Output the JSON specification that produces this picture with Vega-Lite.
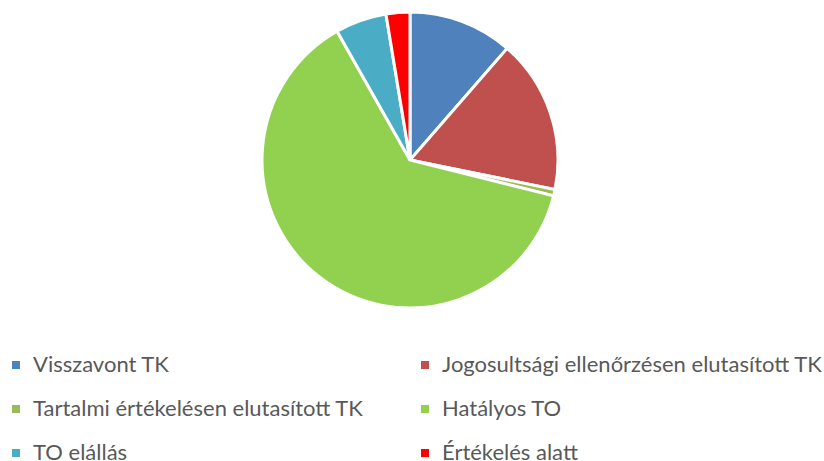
{
  "$schema": "https://vega.github.io/schema/vega-lite/v6.json",
  "width": 820,
  "height": 320,
  "padding": 0,
  "background": "white",
  "data": {
    "values": [
      {"kategoria": "Visszavont TK", "ertek": 11.4, "sorrend": 1},
      {"kategoria": "Jogosultsági ellenőrzésen elutasított TK", "ertek": 16.8, "sorrend": 2},
      {"kategoria": "Tartalmi értékelésen elutasított TK", "ertek": 0.7, "sorrend": 3},
      {"kategoria": "Hatályos TO", "ertek": 62.9, "sorrend": 4},
      {"kategoria": "TO elállás", "ertek": 5.6, "sorrend": 5},
      {"kategoria": "Értékelés alatt", "ertek": 2.6, "sorrend": 6}
    ]
  },
  "mark": {"type": "arc", "outerRadius": 148, "stroke": "white", "strokeWidth": 3},
  "encoding": {
    "theta": {"field": "ertek", "type": "quantitative", "stack": true},
    "order": {"field": "sorrend", "type": "quantitative"},
    "color": {
      "field": "kategoria",
      "type": "nominal",
      "scale": {
        "domain": ["Visszavont TK", "Tartalmi értékelésen elutasított TK", "TO elállás", "Jogosultsági ellenőrzésen elutasított TK", "Hatályos TO", "Értékelés alatt"],
        "range": ["#4F81BD", "#9BBB59", "#4BACC6", "#C0504D", "#92D050", "#FF0000"]
      },
      "legend": {
        "title": null,
        "orient": "none",
        "legendX": 5,
        "legendY": 354,
        "columns": 2,
        "columnPadding": 50,
        "rowPadding": 22,
        "symbolType": "square",
        "symbolSize": 64,
        "symbolStrokeWidth": 0,
        "symbolOffset": 0,
        "labelFont": "Lato",
        "labelFontSize": 22,
        "labelColor": "#595959",
        "labelLimit": 500,
        "labelOffset": 6
      }
    }
  }
}
